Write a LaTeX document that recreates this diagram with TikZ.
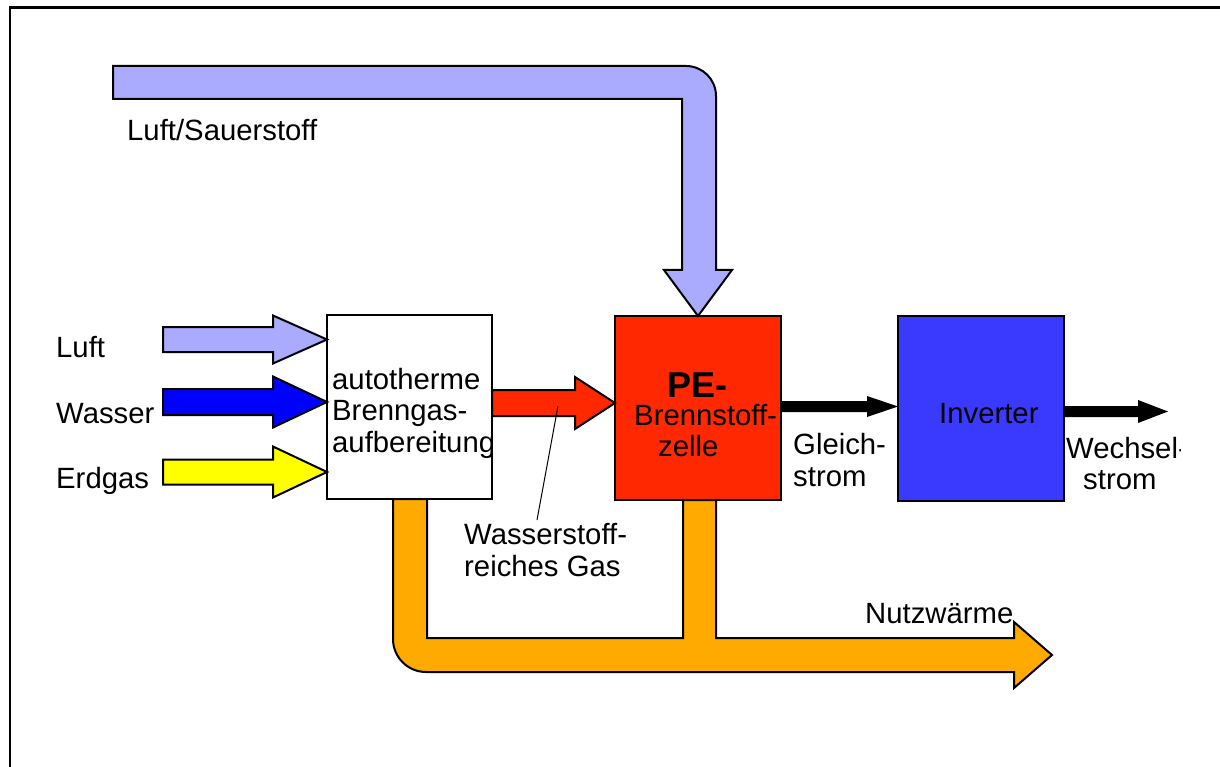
\documentclass[tikz,border=0pt]{standalone}
\usepackage{fontspec}
\setmainfont{Liberation Sans}
\usetikzlibrary{calc}
\definecolor{airblue}{RGB}{170,170,255}
\definecolor{waterblue}{RGB}{0,0,255}
\definecolor{gasyellow}{RGB}{255,255,0}
\definecolor{h2red}{RGB}{255,40,0}
\definecolor{invblue}{RGB}{58,58,255}
\definecolor{heatorange}{RGB}{255,170,0}
\newcommand\lblfont{\fontsize{29.3}{31.5}\selectfont}
\newcommand\blockarr[6]{\filldraw[#1] ($(#2)+(0,-#4)$) -- ($(#3)+(-#6,-#4)$) -- ($(#3)+(-#6,-#5)$) -- (#3) -- ($(#3)+(-#6,#5)$) -- ($(#3)+(-#6,#4)$) -- ($(#2)+(0,#4)$) -- cycle;}
\begin{document}
\begin{tikzpicture}[x=1pt,y=-1pt,
  outl/.style={draw=black, line width=2pt, line join=miter},
  boxnode/.style={outl, inner sep=0pt, outer sep=0pt},
  txt/.style={inner sep=0pt, anchor=base west, font=\lblfont, align=left}]
\useasboundingbox (0,0) rectangle (1220,767);
% frame
\draw[line width=2.5pt] (1220,7.5) -- (10,7.5) -- (10,767);

% boxes
\node[boxnode, fill=white, minimum width=165pt, minimum height=184pt] (box) at (409.5,407) {};
\node[boxnode, fill=h2red, minimum width=166pt, minimum height=184pt] (pe) at (698,408) {};
\node[boxnode, fill=invblue, minimum width=166pt, minimum height=185pt] (inv) at (981,408.5) {};

% orange heat arrow
\filldraw[outl, fill=heatorange] (393,499) -- (393,639) .. controls (393,657.2) and (407.8,672) .. (426,672) -- (1014,672) -- (1014,688) -- (1052,655) -- (1014,622) -- (1014,638) -- (716,638) -- (716,500) -- (683,500) -- (683,638) -- (427,638) -- (427,499) -- cycle;
% redraw box borders over orange
\draw[line width=2pt] (box.south west) -- (box.south east);
\draw[line width=2pt] (pe.south west) -- (pe.south east);

% air / oxygen arrow
\filldraw[outl, fill=airblue] (113,66) -- (686,66) .. controls (702.6,66) and (716,79.4) .. (716,96) -- (716,270) -- (732,270) -- (pe.north) -- (664,270) -- (682,270) -- (682,99) -- (113,99) -- cycle;

% input arrows
\coordinate (luftin) at (163,339.5);
\coordinate (wasserin) at (163,402);
\coordinate (erdgasin) at (163,472);
\coordinate (luftend) at (box.west |- luftin);
\coordinate (wasserend) at (box.west |- wasserin);
\coordinate (erdgasend) at (box.west |- erdgasin);
\blockarr{outl, fill=airblue}{luftin}{luftend}{12.5}{24}{54}
\blockarr{outl, fill=waterblue}{wasserin}{wasserend}{13}{25.5}{54}
\blockarr{outl, fill=gasyellow}{erdgasin}{erdgasend}{12.5}{25.5}{54}

% hydrogen arrow
\coordinate (h2start) at (box.east |- 0,403);
\coordinate (h2end) at (pe.west |- 0,403);
\blockarr{outl, fill=h2red}{h2start}{h2end}{13}{26}{40}

% DC arrow
\coordinate (dcstart) at (pe.east |- 0,406.5);
\coordinate (dcend) at (inv.west |- 0,406.5);
\blockarr{fill=black, draw=none}{dcstart}{dcend}{5.5}{10.5}{31}

% AC arrow
\coordinate (acstart) at (inv.east |- 0,411.5);
\coordinate (acend) at (1168,411.5);
\blockarr{fill=black, draw=none}{acstart}{acend}{5.5}{11.5}{30}

% labels (base anchor of multi-line nodes = last line)
\node[txt] (lblair) at (127,141) {Luft/Sauerstoff};
\node[txt] (lblluft) at (56,357) {Luft};
\node[txt] (lblwasser) at (56,423) {Wasser};
\node[txt] (lblerdgas) at (56,488) {Erdgas};
\begin{scope}
\clip (box.south west) rectangle ($(box.north east)+(-1.5,0)$);
\node[txt] (lblbox) at (332,452) {autotherme\\Brenngas-\\aufbereitung};
\end{scope}
\node[inner sep=0pt, anchor=base west, font=\fontsize{36}{40}\selectfont\bfseries] (lblpe) at (667,397) {PE-};
\node[txt] (lblpe2) at (634,425) {Brennstoff-};
\node[txt] (lblpe3) at (658,456) {zelle};
\node[txt] (lblinv) at (939,423) {Inverter};
\node[txt] (lblgleich) at (793,486) {Gleich-\\strom};
\begin{scope}
\clip (1060,430) rectangle (1180.5,500);
\node[txt] (lblwech) at (1066,458) {Wechsel-};
\end{scope}
\node[txt] (lblwech2) at (1083,489) {strom};
\node[txt] (lblh2) at (464,576) {Wasserstoff-\\reiches Gas};
\node[txt] (lblheat) at (865,623) {Nutzwärme};

% pointer line
\coordinate (h2pt) at (558,406);
\coordinate (h2lblpt) at (537,520);
\draw[line width=1pt] (h2pt) -- (h2lblpt);
\end{tikzpicture}
\end{document}
